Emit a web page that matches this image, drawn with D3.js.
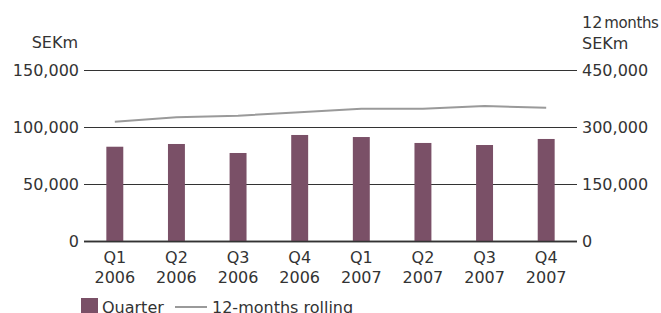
<!DOCTYPE html>
<html><head><meta charset="utf-8">
<script src="https://cdn.jsdelivr.net/npm/d3@7"></script>
<style>
html,body{margin:0;padding:0;background:#fff;}
svg{display:block;font-family:"DejaVu Sans",sans-serif;}
</style></head>
<body>
<svg id="chart" width="661" height="313"></svg>
<script>
const quarters = ["Q1","Q2","Q3","Q4","Q1","Q2","Q3","Q4"];
const years = ["2006","2006","2006","2006","2007","2007","2007","2007"];
const quarterValues = [82700, 85100, 77200, 93000, 91200, 86000, 84200, 89500];
const rollingValues = [313900, 325500, 329700, 338600, 348200, 348000, 355300, 350800];
const leftTicks = [0, 50000, 100000, 150000];
const rightTicks = [0, 150000, 300000, 450000];
const legendLabels = ["Quarter", "12-months rolling"];

const svg = d3.select("#chart");
const textColor = "#333";
const barColor = "#7a5067";
const lineColor = "#9a9a9a";

const ids = quarters.map((q,i)=>i);
const x = d3.scaleBand().domain(ids).range([84, 577]).paddingInner(0.725).paddingOuter(0.3625);
const yL = d3.scaleLinear().domain([0,150000]).range([241,70]);
const yR = d3.scaleLinear().domain([0,450000]).range([241,70]);
const fmt = d3.format(",");

// gridlines
svg.append("g").selectAll("line").data(leftTicks).join("line")
  .attr("x1", 84).attr("x2", 577)
  .attr("y1", d=>yL(d)+0.5).attr("y2", d=>yL(d)+0.5)
  .attr("stroke", "#333").attr("stroke-width", d=>d===0?1.6:1);

// left axis
const gl = svg.append("g").attr("transform","translate(84,0)")
  .call(d3.axisLeft(yL).tickValues(leftTicks).tickFormat(fmt).tickSize(0).tickPadding(5));
gl.select(".domain").remove();
gl.selectAll("text").attr("font-size",16).attr("fill",textColor).attr("font-family","DejaVu Sans");

// right axis
const gr = svg.append("g").attr("transform","translate(577,0)")
  .call(d3.axisRight(yR).tickValues(rightTicks).tickFormat(fmt).tickSize(0).tickPadding(5));
gr.select(".domain").remove();
gr.selectAll("text").attr("font-size",16).attr("fill",textColor).attr("font-family","DejaVu Sans");

// axis titles
svg.append("text").attr("x",78).attr("y",48).attr("text-anchor","end")
  .attr("font-size",16).attr("fill",textColor).text("SEKm");
const t12 = svg.append("text").attr("x",582).attr("y",28).attr("fill",textColor);
t12.append("tspan").attr("font-size",16).text("12");
t12.append("tspan").attr("font-size",15).attr("dx",2).attr("letter-spacing","-0.4").text("months");
svg.append("text").attr("x",582).attr("y",49)
  .attr("font-size",16).attr("fill",textColor).text("SEKm");

// bars
svg.append("g").selectAll("rect").data(quarterValues).join("rect")
  .attr("x",(d,i)=>x(i)).attr("width",x.bandwidth())
  .attr("y",d=>yL(d)).attr("height",d=>yL(0)-yL(d))
  .attr("fill",barColor);

// redraw zero line above bars
svg.append("line").attr("x1",84).attr("x2",577)
  .attr("y1",yL(0)+0.5).attr("y2",yL(0)+0.5)
  .attr("stroke","#333").attr("stroke-width",1.6);

// rolling line
const line = d3.line().x((d,i)=>x(i)+x.bandwidth()/2).y(d=>yR(d));
svg.append("path").datum(rollingValues).attr("d",line)
  .attr("fill","none").attr("stroke",lineColor).attr("stroke-width",2);

// x labels
const xl = svg.append("g");
xl.selectAll("text.q").data(quarters).join("text").attr("class","q")
  .attr("x",(d,i)=>x(i)+x.bandwidth()/2).attr("y",263)
  .attr("text-anchor","middle").attr("font-size",16).attr("fill",textColor).text(d=>d);
xl.selectAll("text.y").data(years).join("text").attr("class","y")
  .attr("x",(d,i)=>x(i)+x.bandwidth()/2).attr("y",283)
  .attr("text-anchor","middle").attr("font-size",16).attr("fill",textColor).text(d=>d);

// legend
svg.append("rect").attr("x",81).attr("y",298).attr("width",17).attr("height",17).attr("fill",barColor);
svg.append("text").attr("x",102).attr("y",313).attr("font-size",16).attr("fill",textColor).text(legendLabels[0]);
svg.append("line").attr("x1",175).attr("x2",207).attr("y1",307).attr("y2",307)
  .attr("stroke",lineColor).attr("stroke-width",2);
svg.append("text").attr("x",212).attr("y",313).attr("font-size",16).attr("fill",textColor).text(legendLabels[1]);
</script>
</body></html>
